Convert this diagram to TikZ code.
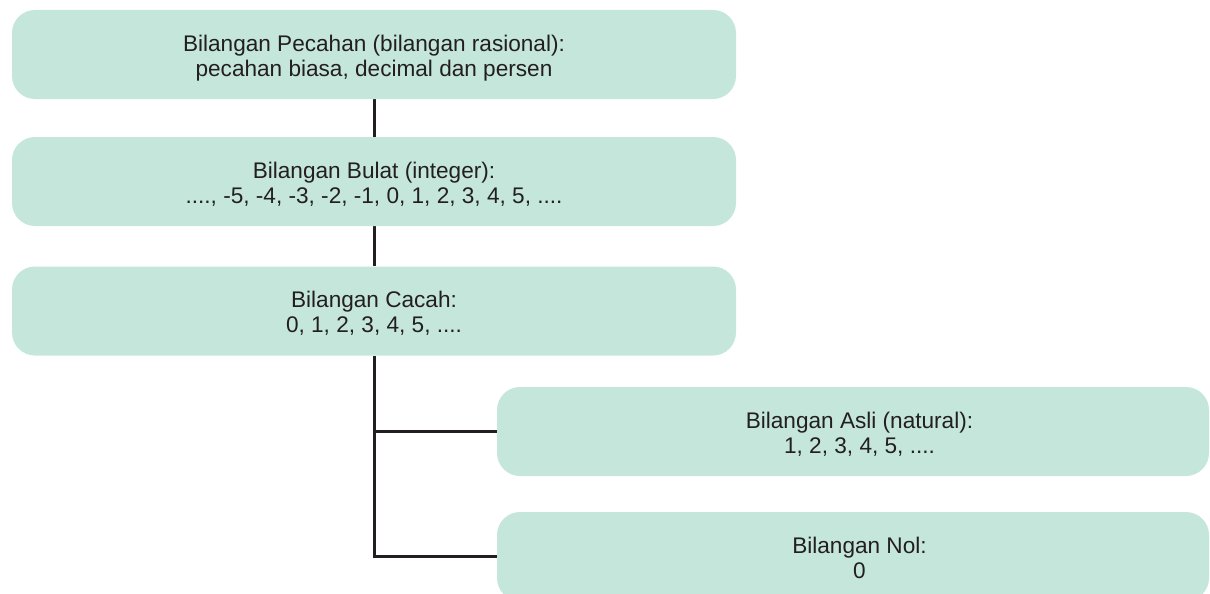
\documentclass[tikz,border=0pt]{standalone}
\usepackage{fontspec}
\setmainfont{Liberation Sans}
\usetikzlibrary{backgrounds}
\definecolor{boxfill}{HTML}{C5E6DA}
\definecolor{ink}{HTML}{231F20}
\begin{document}
\begin{tikzpicture}[x=1pt,y=-1pt,
  box/.style={fill=boxfill, draw=none, rounded corners=23pt, minimum height=89pt, inner sep=0pt},
  bigbox/.style={box, minimum width=724pt},
  sidebox/.style={box, minimum width=712pt},
  txt/.style={text=ink, anchor=base, font=\fontsize{22.6}{25}\selectfont, inner sep=0pt},
  conn/.style={draw=ink, line width=3pt}]
\clip (0,0) rectangle (1210,594);
\node[bigbox] (b1) at (374,54.5) {};
\node[bigbox] (b2) at (374,181.5) {};
\node[bigbox] (b3) at (374,311) {};
\node[sidebox] (b4) at (853,431.5) {};
\node[sidebox] (b5) at (853,556.5) {};
\node[txt] (t1a) at (374,51.2) {Bilangan Pecahan (bilangan rasional):};
\node[txt] (t1b) at (374,76.2) {pecahan biasa, decimal dan persen};
\node[txt] (t2a) at (374,178.2) {Bilangan Bulat (integer):};
\node[txt] (t2b) at (374,203.2) {...., -5, -4, -3, -2, -1, 0, 1, 2, 3, 4, 5, ....};
\node[txt] (t3a) at (374,307.7) {Bilangan Cacah:};
\node[txt] (t3b) at (374,332.7) {0, 1, 2, 3, 4, 5, ....};
\node[txt] (t4a) at (859.5,428.2) {Bilangan Asli (natural):};
\node[txt] (t4b) at (859.5,453.2) {1, 2, 3, 4, 5, ....};
\node[txt] (t5a) at (859.5,553.2) {Bilangan Nol:};
\node[txt] (t5b) at (859.5,578.2) {0};
\begin{scope}[on background layer]
\draw[conn] (b1.south) -- (b2.north);
\draw[conn] (b2.south) -- (b3.north);
\draw[conn] (b3.south) |- (b4.west);
\draw[conn] (b3.south) |- (b5.west);
\end{scope}
\end{tikzpicture}
\end{document}
